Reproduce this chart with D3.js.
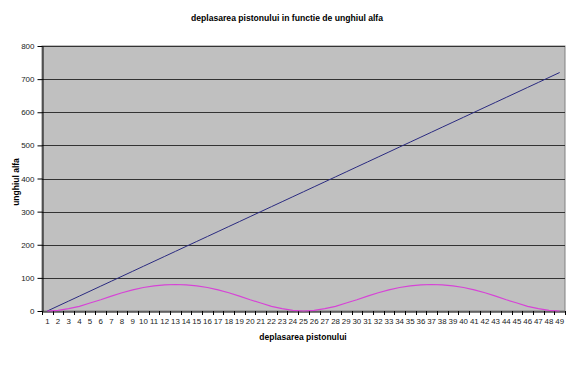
<!DOCTYPE html>
<html><head><meta charset="utf-8">
<script src="https://cdn.jsdelivr.net/npm/d3@7"></script>
<style>body{margin:0;background:#fff}svg{display:block}text{font-family:"Liberation Sans",Arial,sans-serif}</style>
</head><body>
<svg id="c" width="575" height="367"></svg>
<script>
const categories = d3.range(1, 50);
const unghiulAlfa = [0,15,30,45,60,75,90,105,120,135,150,165,180,195,210,225,240,255,270,285,300,315,330,345,360,375,390,405,420,435,450,465,480,495,510,525,540,555,570,585,600,615,630,645,660,675,690,705,720];
const deplasarea = [0,2,7,14,24,34,45,55,64,71,76,79,80,79,76,71,64,55,45,34,24,14,7,2,0,2,7,14,24,34,45,55,64,71,76,79,80,79,76,71,64,55,45,34,24,14,7,2,0];
const yTicks = [0,100,200,300,400,500,600,700,800];
const title = "deplasarea pistonului in functie de unghiul alfa";
const xTitle = "deplasarea pistonului";
const yTitle = "unghiul alfa";

const svg = d3.select("#c");
const L = 42, R = 565, T = 46, B = 311;
const x = d3.scaleBand().domain(categories).range([L, R]);
const y = d3.scaleLinear().domain([0, 800]).range([B, T]);

svg.append("rect").attr("x", L).attr("y", T).attr("width", R - L).attr("height", B - T)
  .attr("fill", "#c0c0c0").attr("stroke", "#808080").attr("stroke-width", 1);

svg.append("g").selectAll("line").data(yTicks.filter(d => d > 0)).join("line")
  .attr("x1", L).attr("x2", R).attr("y1", d => Math.round(y(d)) + 0.5).attr("y2", d => Math.round(y(d)) + 0.5)
  .attr("stroke", "#333").attr("stroke-width", 1);

const yAxis = svg.append("g").attr("transform", `translate(${L + 0.5},0)`)
  .call(d3.axisLeft(y).tickValues(yTicks).tickSize(5).tickPadding(3).tickSizeOuter(0));
yAxis.select(".domain").attr("stroke", "#000");
yAxis.selectAll("text").attr("font-size", 8).attr("fill", "#222");

const xAxis = svg.append("g").attr("transform", `translate(0,${B + 0.5})`)
  .call(d3.axisBottom(x).tickSize(0).tickPadding(7).tickSizeOuter(0));
xAxis.select(".domain").attr("stroke", "#000");
xAxis.selectAll("text").attr("font-size", 7.9).attr("fill", "#222");
svg.append("g").selectAll("line").data(categories.concat([50])).join("line")
  .attr("x1", d => Math.round(d <= 49 ? x(d) : R) + 0.5).attr("x2", d => Math.round(d <= 49 ? x(d) : R) + 0.5)
  .attr("y1", B).attr("y2", B + 4).attr("stroke", "#000");

const cx = d => x(d) + x.bandwidth() / 2;
const line = vals => d3.line().x((d, i) => cx(categories[i])).y(d => y(d))(vals);
svg.append("path").attr("d", line(unghiulAlfa)).attr("fill", "none").attr("stroke", "#2a2a80").attr("stroke-width", 1);
svg.append("path").attr("d", line(deplasarea)).attr("fill", "none").attr("stroke", "#d644d6").attr("stroke-width", 1.2);

svg.append("text").attr("x", 287).attr("y", 21).attr("text-anchor", "middle")
  .attr("font-size", 8.6).attr("font-weight", "bold").text(title);
svg.append("text").attr("x", 303).attr("y", 340).attr("text-anchor", "middle")
  .attr("font-size", 8.5).attr("font-weight", "bold").text(xTitle);
svg.append("text").attr("transform", "translate(19,182) rotate(-90)").attr("text-anchor", "middle")
  .attr("font-size", 8.5).attr("font-weight", "bold").text(yTitle);
</script>
</body></html>
